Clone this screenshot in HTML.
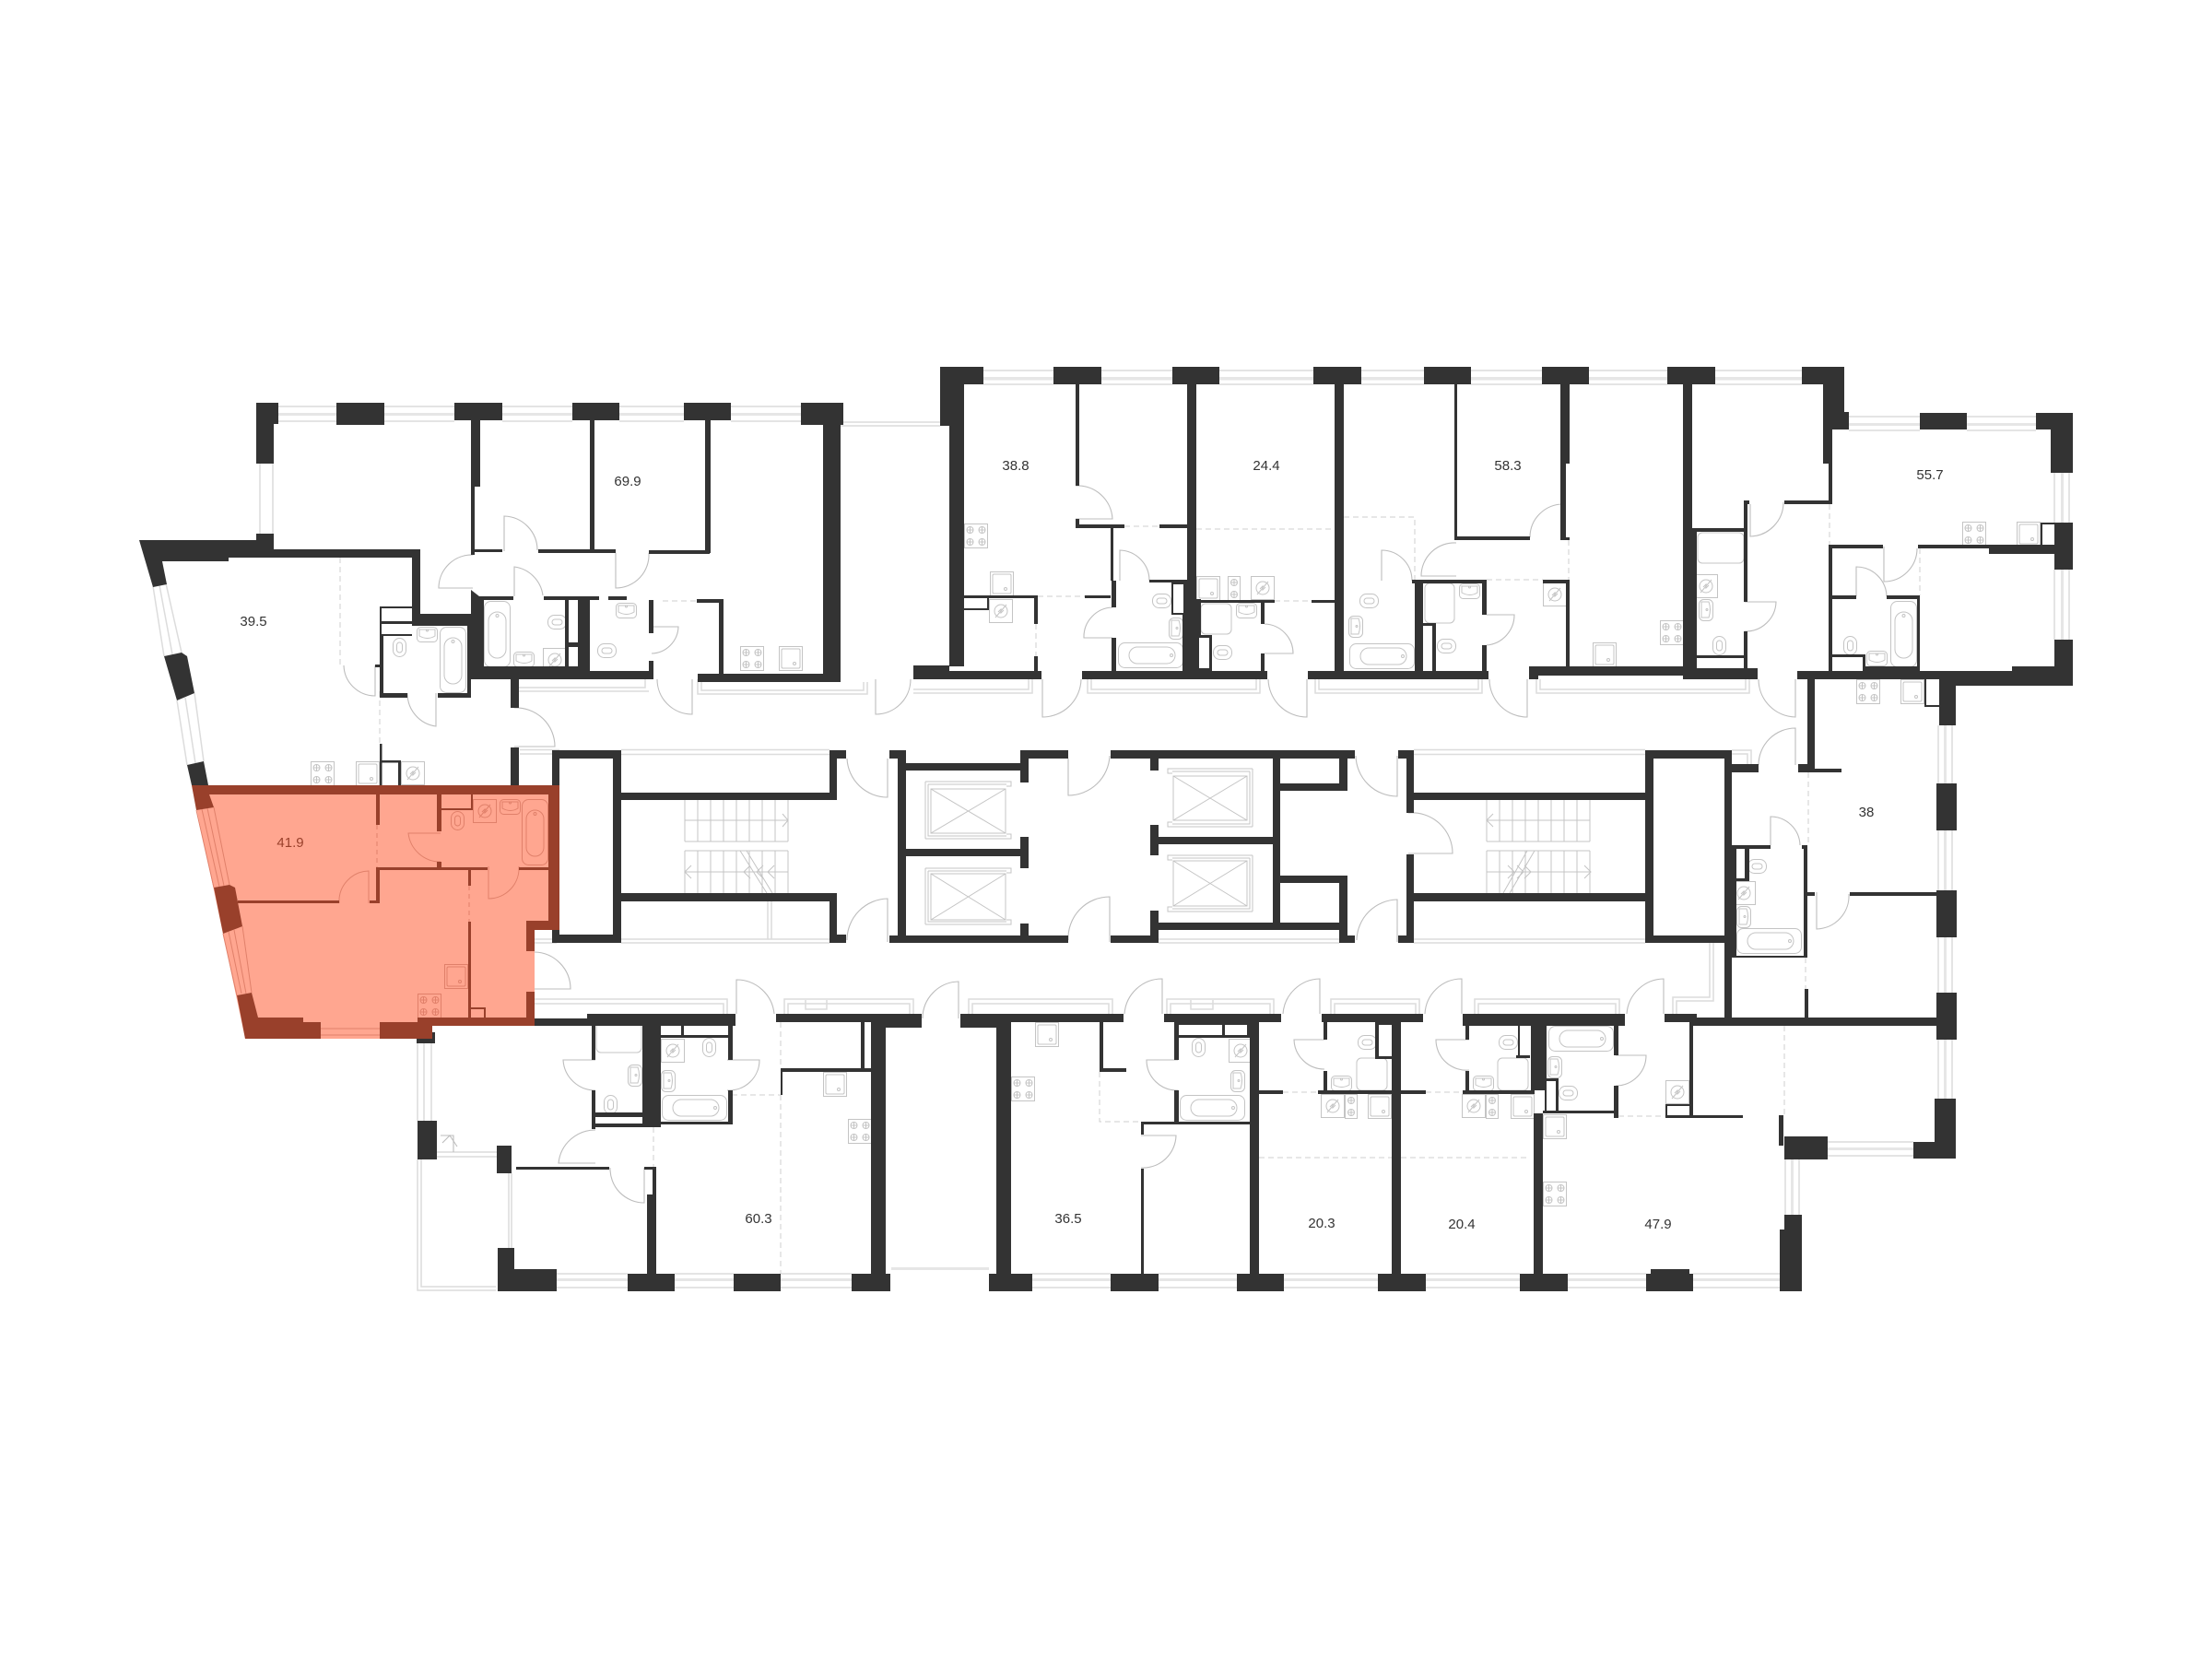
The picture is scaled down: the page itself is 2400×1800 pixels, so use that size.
<!DOCTYPE html>
<html><head><meta charset="utf-8"><title>Floor plan</title>
<style>
html,body{margin:0;padding:0;background:#fff}
svg{display:block}
text{font-family:"Liberation Sans",sans-serif;font-size:15px;text-anchor:middle;fill:#333}
</style></head><body>
<svg width="2400" height="1800" viewBox="0 0 2400 1800" xmlns="http://www.w3.org/2000/svg">
<defs>
<g id="st"><rect x=".5" y=".5" width="25" height="26"/><circle cx="6.500" cy="7" r="3.500"/><circle cx="19.500" cy="7" r="3.500"/><circle cx="6.500" cy="20" r="3.500"/><circle cx="19.500" cy="20" r="3.500"/><path d="M3 7h7M6.500 3.500v7M16 7h7M19.500 3.500v7M3 20h7M6.500 16.500v7M16 20h7M19.500 16.500v7"/></g>
<g id="st2"><rect x=".5" y=".5" width="13" height="26"/><circle cx="7" cy="7" r="3.500"/><circle cx="7" cy="20" r="3.500"/><path d="M3.500 7h7M7 3.500v7M3.500 20h7M7 16.500v7"/></g>
<g id="sq"><rect x=".5" y=".5" width="25" height="26"/><rect x="3" y="3" width="20" height="21" rx="1.500"/><circle cx="17" cy="19" r="1.500"/></g>
<g id="wa"><rect x=".5" y=".5" width="25" height="25"/><circle cx="13" cy="13" r="7"/><path d="M7 20L19 6M10 14l3-3 0 4 3-3"/></g>
<g id="bv"><rect x=".5" y=".5" width="28" height="71" rx="7"/><rect x="5" y="12" width="19" height="50" rx="9.500"/><circle cx="14.500" cy="12" r="1.500" transform="translate(0 4)"/></g>
<g id="bh"><rect x=".5" y=".5" width="70" height="27" rx="7"/><rect x="12" y="5" width="50" height="18" rx="9"/><circle cx="58" cy="14" r="1.500"/></g>
<g id="tv"><rect x=".5" y=".5" width="14" height="20" rx="7"/><rect x="4.500" y="5" width="6" height="11" rx="3"/></g>
<g id="th"><rect x=".5" y=".5" width="20" height="15" rx="7"/><rect x="5" y="5" width="11" height="6" rx="3"/></g>
<g id="sh"><rect x=".5" y=".5" width="22" height="16" rx="4"/><path d="M3 3h17v7q-8 5-17 0z"/><circle cx="11.500" cy="4" r="1"/></g>
<g id="sv"><rect x=".5" y=".5" width="15" height="23" rx="5"/><path d="M3 3h8q3 8 0 17h-8z"/><circle cx="9" cy="11.500" r="1"/></g>
</defs>

<!-- glazing / thin grey lines -->
<g fill="none" stroke="#dcdcdc" stroke-width="1.500">
<path d="M1067 402H1143M1067 417H1143M1195 402H1272M1195 417H1272M1323 402H1425M1323 417H1425M1477 402H1545M1477 417H1545M1596 402H1673M1596 417H1673M1724 402H1809M1724 417H1809M1861 402H1955M1861 417H1955"/>
<path d="M302 441H365M302 457H365M417 441H493M417 457H493M545 441H621M545 457H621M672 441H742M672 457H742M793 441H869M793 457H869"/>
<path d="M2006 452H2083M2006 467H2083M2134 452H2209M2134 467H2209"/>
<path d="M604 1382H681M604 1397H681M732 1382H796M732 1397H796M847 1382H924M847 1397H924M1120 1382H1205M1120 1397H1205M1257 1382H1342M1257 1397H1342M1393 1382H1495M1393 1397H1495M1547 1382H1649M1547 1397H1649M1701 1382H1786M1701 1397H1786M1837 1382H1931M1837 1397H1931"/>
<path d="M1983 1239H2076M1983 1254H2076"/>
<path d="M2229 513V567M2245 513V567M2229 618V694M2245 618V694M2103 787V850M2118 787V850M2103 901V966M2118 901V966M2103 1017V1077M2118 1017V1077M2103 1128V1192M2118 1128V1192"/>
<path d="M1937 1258V1318M1952 1258V1318M282 503V579M296 503V579"/>
<path d="M166 636L178 712M180 633L197 708M173 635L187 710M192 760L203 830M211 752L221 826M201 757L212 828"/>
<path d="M674 813.500H900M674 818.500H900M674 1019H900M674 1023H900M833 978V1019M837 978V1019"/>
<path d="M1257 1019H1453M1257 1023H1453"/>
<path d="M1534 813.500H1785M1534 818.500H1785M1534 1019H1785M1534 1023H1785"/>
<path d="M607 813.500H599M564 818H599M564 813.500H599M604 1019H564M604 1023H564"/>
<path d="M1879 814H1900V829M1879 818H1896V829M1859 1023V1086H1819V1100M1855 1023V1082H1815V1100"/>
<path d="M912 458H1020M912 462H1020"/>
<path d="M991 752H1120V737M991 748H1116V737M1180 737V752H1367V737M1184 737V748H1363V737M1427 737V752H1608V737M1431 737V748H1604V737M1667 737V752H1898V737M1671 737V748H1894V737M757 737V753H941V740M761 737V749H937V740M561 750H704M561 746H700V737"/>
<path d="M580 1084H789V1100M580 1089H785V1100M851 1100V1084H991V1100M855 1100V1089H987V1100M874 1085V1095H897V1085M1051 1100V1084H1207V1100M1055 1100V1089H1203V1100M1266 1100V1084H1382V1100M1270 1100V1089H1378V1100M1292 1085V1095H1316V1085M1444 1100V1084H1540V1100M1448 1100V1089H1536V1100M1600 1100V1084H1757V1100M1604 1100V1089H1753V1100"/>
<path d="M453 1132V1216M460 1132V1216M468 1132V1216M453 1258V1400H538M457 1258V1396H538M474 1250H539M474 1255H539M552 1273V1354M555 1273V1354M967 1376.500H1073"/>
</g>
<g fill="#e6e6e6">
<path d="M1067 409H1143V412.500H1067zM1195 409H1272V412.500H1195zM1323 409H1425V412.500H1323zM1477 409H1545V412.500H1477zM1596 409H1673V412.500H1596zM1724 409H1809V412.500H1724zM1861 409H1955V412.500H1861z"/>
<path d="M302 448H365V451H302zM417 448H493V451H417zM545 448H621V451H545zM672 448H742V451H672zM793 448H869V451H793zM2006 459H2083V462H2006zM2134 459H2209V462H2134z"/>
<path d="M604 1387H681V1390H604zM732 1387H796V1390H732zM847 1387H924V1390H847zM1120 1387H1205V1390H1120zM1257 1387H1342V1390H1257zM1393 1387H1495V1390H1393zM1547 1387H1649V1390H1547zM1701 1387H1786V1390H1701zM1837 1387H1931V1390H1837zM1983 1245H2076V1248H1983z"/>
<path d="M2236 513H2239V567H2236zM2236 618H2239V694H2236zM2109 787H2112V850H2109zM2109 901H2112V966H2109zM2109 1017H2112V1077H2109zM2109 1128H2112V1192H2109zM1943 1258H1946V1318H1943z"/>
<path d="M967 1375H1073V1378H967z"/>
</g>

<!-- stairs and lifts -->
<g fill="none" stroke="#c4c4c4" stroke-width="1">
<path d="M743 868V913M757 868V913M771 868V913M785 868V913M799 868V913M813 868V913M827 868V913M841 868V913M855 868V913M743 923V969M757 923V969M771 923V969M785 923V969M799 923V969M813 923V969M827 923V969M841 923V969M855 923V969M743 890H855M743 946H855M743 913H855M743 923H855M803 923L832 969M810 923L838 969M849 883L855 890L849 897M750 939L743 946L750 953M814 939L807 946L814 953M828 939L821 946L828 953M840 939L833 946L840 953"/>
<path d="M1613 868V913M1627 868V913M1641 868V913M1655 868V913M1669 868V913M1683 868V913M1697 868V913M1711 868V913M1725 868V913M1613 923V969M1627 923V969M1641 923V969M1655 923V969M1669 923V969M1683 923V969M1697 923V969M1711 923V969M1725 923V969M1613 890H1725M1613 946H1725M1613 913H1725M1613 923H1725M1657 923L1631 969M1665 923L1638 969M1620 883L1613 890L1620 897M1719 939L1726 946L1719 953M1636 939L1643 946L1636 953M1646 939L1653 946L1646 953M1654 939L1661 946L1654 953"/>
<path d="M1004 848H1097V853H1092M1004 910H1097V905H1092M1004 848V910M1007 851V907H1092M1007 851H1092M1010 856H1091V904H1010zM1010 856L1091 904M1091 856L1010 904"/>
<path d="M1004 942H1097V947H1092M1004 1003H1097V998H1092M1004 942V1003M1007 945V1000H1092M1007 945H1092M1010 948H1091V998H1010zM1010 948L1091 998M1091 948L1010 998"/>
<path d="M1359 834H1267V839H1272M1359 897H1267V892H1272M1359 834V897M1356 837V894H1272M1356 837H1272M1273 842H1353V890H1273zM1273 842L1353 890M1353 842L1273 890"/>
<path d="M1359 928H1267V933H1272M1359 989H1267V984H1272M1359 928V989M1356 931V986H1272M1356 931H1272M1273 934H1353V983H1273zM1273 934L1353 983M1353 934L1273 983"/>
</g>

<!-- fixtures -->
<g fill="#fff" stroke="#c4c4c4" stroke-width="1">
<use href="#st" x="1046" y="568"/><use href="#st" x="337" y="826"/><use href="#st" x="1801" y="673"/><use href="#st" x="2129" y="566"/><use href="#st" x="2014" y="737"/><use href="#st" x="1097" y="1168"/><use href="#st" x="920" y="1214"/><use href="#st" x="1674" y="1282"/><use href="#st" x="803" y="701"/>
<use href="#st2" x="1332" y="625"/><use href="#st2" x="1459" y="1187"/><use href="#st2" x="1612" y="1187"/>
<use href="#sq" x="1074" y="620"/><use href="#sq" x="1298" y="625"/><use href="#sq" x="386" y="826"/><use href="#sq" x="1728" y="697"/><use href="#sq" x="2188" y="566"/><use href="#sq" x="2062" y="737"/><use href="#sq" x="893" y="1163"/><use href="#sq" x="1123" y="1109"/><use href="#sq" x="1484" y="1187"/><use href="#sq" x="1674" y="1209"/><use href="#sq" x="1639" y="1187"/><use href="#sq" x="845" y="701"/>
<use href="#wa" x="1073" y="650"/><use href="#wa" x="1357" y="625"/><use href="#wa" x="435" y="826"/><use href="#wa" x="1674" y="632"/><use href="#wa" x="1838" y="623"/><use href="#wa" x="589" y="703"/><use href="#wa" x="1879" y="956"/><use href="#wa" x="717" y="1127"/><use href="#wa" x="1333" y="1127"/><use href="#wa" x="1433" y="1187"/><use href="#wa" x="1586" y="1187"/><use href="#wa" x="1807" y="1172"/>
<use href="#bv" x="477" y="680"/><use href="#bv" x="525" y="652"/><use href="#bv" x="2051" y="652"/>
<use href="#bh" x="1213" y="697"/><use href="#bh" x="1464" y="698"/><use href="#bh" x="1884" y="1007"/><use href="#bh" x="718" y="1188"/><use href="#bh" x="1280" y="1188"/><use href="#bh" x="1680" y="1113"/>
<rect x="1303" y="655" width="33" height="33" rx="5"/><rect x="1546" y="633" width="32" height="43" rx="5"/><rect x="1842" y="578" width="50" height="33" rx="5"/><rect x="647" y="1109" width="49" height="33" rx="5"/><rect x="1472" y="1148" width="33" height="35" rx="5"/><rect x="1625" y="1148" width="33" height="35" rx="5"/>
<use href="#tv" x="426" y="692"/><use href="#th" x="594" y="667"/><use href="#th" x="1250" y="644"/><use href="#th" x="1316" y="700"/><use href="#th" x="1475" y="644"/><use href="#th" x="1559" y="693"/><use href="#tv" x="1858" y="690"/><use href="#tv" x="2000" y="690"/><use href="#th" x="1896" y="932"/><use href="#tv" x="762" y="1126"/><use href="#tv" x="655" y="1188"/><use href="#tv" x="1293" y="1126"/><use href="#th" x="1473" y="1123"/><use href="#th" x="1626" y="1123"/><use href="#th" x="1691" y="1178"/><use href="#th" x="648" y="698"/>
<use href="#sh" x="452" y="680"/><use href="#sh" x="557" y="707"/><use href="#sh" x="1341" y="654"/><use href="#sh" x="1583" y="633"/><use href="#sh" x="2025" y="706"/><use href="#sh" x="1444" y="1167"/><use href="#sh" x="1598" y="1167"/><use href="#sh" x="668" y="654"/>
<use href="#sv" x="1268" y="670"/><use href="#sv" x="1463" y="668"/><use href="#sv" x="1843" y="650"/><use href="#sv" x="1884" y="983"/><use href="#sv" x="681" y="1155"/><use href="#sv" x="717" y="1161"/><use href="#sv" x="1335" y="1161"/><use href="#sv" x="1679" y="1146"/>
</g>

<!-- dashed partitions -->
<g fill="none" stroke="#cfcfcf" stroke-width="1" stroke-dasharray="6 4">
<path d="M369 605V722M412 750V808M1220 571H1258M1126 647H1177M1124 677V712M1298 574H1448M1383 652H1423M1458 561H1535V630M1613 629H1674M1702 586V629M1985 547V591M2083 595V646M1962 838V917M1959 1039V1073M1936 1113V1210M709 1223V1266M794 1188H847M847 1109V1159M847 1188V1382M1193 1163V1217H1238M1392 1185H1430M1366 1256H1510M1547 1185H1585M1520 1256H1660M1756 1211H1807M719 652H780"/>
</g>

<!-- doors -->
<g fill="none" stroke="#bdbdbd" stroke-width="1.100">
<path d="M547 598V560A37 37 0 0 1 583 597M513 638H476A36 36 0 0 1 513 602M558 647V615A36 36 0 0 1 589 646M373 722A34 34 0 0 0 407 755V722M442 752A36 36 0 0 0 473 788V752M558 768A42 42 0 0 1 602 810H558M580 1033A40 40 0 0 1 619 1073H580"/>
<path d="M668 600V638A36 36 0 0 0 704 600M707 680H736A30 30 0 0 1 707 709M713 737A38 38 0 0 0 751 775V737M950 737V775A38 38 0 0 0 988 737"/>
<path d="M1167 527A38 38 0 0 1 1207 563H1167M1215 630V597A33 33 0 0 1 1247 630M1207 692H1176A32 32 0 0 1 1207 659M1372 677A32 32 0 0 1 1403 709H1372M1131 737V778A42 42 0 0 0 1173 737M1376 737A42 42 0 0 0 1418 778V737"/>
<path d="M1580 625H1542A36 36 0 0 1 1580 589M1499 630V597A33 33 0 0 1 1532 630M1696 583V547A36 36 0 0 0 1660 583M1613 667H1643A33 33 0 0 1 1613 700M1616 737A41 41 0 0 0 1657 778V737M1899 547V582A37 37 0 0 0 1935 545M1893 653H1927A33 33 0 0 1 1893 685M1908 737A41 41 0 0 0 1948 778V737"/>
<path d="M2044 593V631A36 36 0 0 0 2080 595M2014 647V615A33 33 0 0 1 2047 647M1948 830V790A40 40 0 0 0 1908 830M1921 917V886A32 32 0 0 1 1953 917M1971 968V1008A36 36 0 0 0 2006 970"/>
<path d="M1586 1100V1062A40 40 0 0 0 1546 1100M1805 1100V1062A41 41 0 0 0 1765 1100M1594 1128H1558A33 33 0 0 0 1594 1161M1753 1145H1786A33 33 0 0 1 1753 1178M1261 1100V1062A41 41 0 0 0 1220 1100M1278 1150H1244A33 33 0 0 0 1278 1183M1238 1232H1276A36 36 0 0 1 1238 1267M1432 1100V1062A41 41 0 0 0 1392 1100M1437 1128H1404A33 33 0 0 0 1437 1160"/>
<path d="M799 1100V1063A41 41 0 0 1 840 1100M1040 1105V1065A40 40 0 0 0 1001 1105M646 1150H611A35 35 0 0 0 646 1183M789 1150H824A33 33 0 0 1 789 1183M646 1226A40 40 0 0 0 606 1262H646M662 1267A37 37 0 0 0 699 1305V1267"/>
<path d="M1159 823V863A45 45 0 0 0 1204 820M1204 1022V973A45 45 0 0 0 1159 1020M1471 820A45 45 0 0 0 1516 864V820M1516 1022V976A45 45 0 0 0 1472 1020M1528 882A44 44 0 0 1 1576 926H1528M919 823A44 44 0 0 0 963 865V823M963 1022V975A45 45 0 0 0 919 1020"/>
<path d="M478 1232h14v18M480 1240l8-8 8 12"/>
</g>

<!-- walls -->
<path fill="#333" fill-rule="nonzero" d="
M278 437H302V460H297V503H278z
M365 437H417V461H365z
M493 437H545V456H493z
M621 437H672V456H621z
M742 437H793V456H742z
M869 437H915V461H869z
M511 456H521V528H515V602H511z
M640 456H645V600H640z
M765 456H771V600H765z
M893 456H912V731H893z
M515 596H545V599H515z
M584 596H668V600H584z
M704 597H770V601H704z
M151 586H278V579H297V596H456V679H447V605H248V609H176L181 634L166 637z
M447 666H511V679H447z
M507 679H511V757H507z
M412 752H442V757H412z
M475 752H511V757H475z
M412 690H416V757H412z
M412 658H447V660H412zM412 658H414V690H412zM412 674H447V677H412zM414 688H447V690H414z
M407 721H412V724H407z
M511 640L520 647H525V723H640V728H704V737H511z
M525 647H557V651H525z
M590 647H650V651H590z
M627 647H640V737H627z
M613 647H617V723H613zM613 697H627V702H613z
M660 647H680V651H660z
M704 651H709V687H704zM704 717H709V737H704z
M780 650H785V731H780z
M756 650H785V654H756z
M757 731H912V740H757z
M554 737H563V768H554z
M554 811H563V852H554z
M412 807H414.500V852H412zM414 825H435V827.500H414zM432 825H435V852H432z
M178 712L197 708L203 712L211 752L192 760z
M203 830L221 826L226 852H208z
M991 722H1030V728H1130V737H991z
M1020 398H1067V417H1046V723H1030V462H1020z
M1143 398H1195V417H1143z
M1272 398H1323V417H1272z
M1425 398H1477V417H1425z
M1545 398H1596V417H1545z
M1673 398H1724V417H1673z
M1809 398H1861V417H1809z
M1167 417H1171V527H1167zM1167 563H1171V573H1167z
M1167 569H1220V573H1167z
M1258 569H1288V573H1258z
M1205 573H1208V630H1205zM1206 630H1211V659H1206zM1206 692H1211V728H1206z
M1247 629H1288V632H1247z
M1271 632H1286V634H1271zM1271 632H1273V667H1271zM1284 632H1288V667H1284zM1271 665H1288V667H1271z
M1288 417H1298V728H1283V667H1288z
M1298 650H1303V728H1298z
M1298 651H1383V654H1298z
M1423 651H1448V654H1423z
M1298 689H1315V728H1298z
M1368 654H1372V677H1368zM1368 709H1372V728H1368z
M1448 417H1458V728H1448z
M1174 728H1375V737H1174z
M1419 728H1615V737H1419z
M1122 649H1126V677H1122zM1122 712H1126V728H1122z
M1046 646H1126V649H1046z
M1177 646H1205V649H1177z
M1046 660H1072V662H1046zM1071 649H1073V662H1071z
M1578 417H1581V586H1578z
M1581 582H1660V586H1581z
M1697 583H1703V586H1697z
M1693 417H1703V503H1699V586H1693V503z
M1532 629H1613V633H1532z
M1674 629H1703V633H1674z
M1535 633H1544V728H1535z
M1608 633H1613V667H1608zM1608 700H1613V728H1608z
M1544 676H1558V679H1544zM1554 679H1558V728H1554z
M1699 633H1703V725H1699z
M1659 723H1827V733H1669V737H1659z
M1826 417H1836V737H1826z
M1836 573H1841V737H1836z
M1836 573H1896V577H1836z
M1892 543H1896V653H1892zM1892 685H1896V725H1892zM1892 543H1898V547H1892z
M1936 543H1988V547H1936z
M1839 711H1893V714H1839z
M1836 725H1907V737H1836z
M1950 728H2104V737H1950z
M1955 398H2001V447H2006V466H1988V547H1984V503H1978V417H1955z
M2083 448H2134V466H2083z
M2209 448H2249V513H2225V466H2209z
M2229 567H2249V618H2229z
M2229 694H2249V744H2122V787H2104V728H2183V723H2229z
M1984 591H2043V595H1984z
M2081 591H2158V595H2081z
M2158 591H2229V601H2158z
M2214 567H2232V569H2216V591H2214z
M1984 595H1988V728H1984z
M1988 646H2014V650H1988z
M2047 646H2083V650H2047z
M2080 650H2083V728H2080z
M1988 710H2024V713H1988zM2021 710H2024V728H2021z
M2024 723H2083V728H2024z
M2088 737H2090V765H2104V767H2088z
M599 814H674V1023H599zM607 823V1014H665V823z
M674 860H908V868H674z
M674 969H908V978H674z
M900 814H918V823H908V868H900z
M900 969H908V1014H918V1023H900z
M974 814H983V1023H974z
M965 814H974V823H965zM965 1015H974V1023H965z
M983 828H1107V836H983z
M983 921H1107V929H983z
M983 1015H1159V1023H983z
M1107 814H1159V823H1116V849H1107z
M1107 908H1116V942H1107z
M1107 1002H1116V1015H1107z
M1205 814H1470V823H1205z
M1248 823H1257V836H1248z
M1248 895H1257V928H1248z
M1257 908H1381V916H1257z
M1248 988H1257V1001H1462V1009H1257V1023H1205V1015H1248z
M1381 823H1389V1001H1381z
M1389 850H1462V858H1389z
M1453 823H1462V850H1453z
M1389 950H1462V958H1389z
M1453 958H1462V1015H1470V1023H1453z
M1526 814H1534V882H1526zM1517 814H1526V823H1517z
M1526 927H1534V1023H1526zM1517 1015H1526V1023H1517z
M1534 860H1785V868H1534z
M1534 969H1785V978H1534z
M1785 814H1879V1023H1785zM1794 823V1015H1871V823z
M1879 829H1908V838H1879z
M1951 829H1961V737H1969V834H1998V838H1951z
M1871 1023H1879V1104H1871z
M1879 917H1921V921H1879z
M1955 917H1961V921H1955z
M1879 921H1884V1039H1879z
M1879 1037H1961V1039H1879z
M1957 921H1961V1039H1957z
M1882 953H1898V956H1882z
M1893 921H1898V956H1893z
M1961 968H1969V972H1961z
M2007 968H2101V972H2007z
M2101 850H2123V901H2101z
M2101 966H2123V1017H2101z
M2101 1077H2123V1128H2101z
M1958 1073H1962V1105H1958z
M1836 1104H2101V1113H1836z
M1587 1100H1763V1113H1587z
M1806 1100H1841V1109H1806z
M1833 1109H1837V1210H1833z
M1807 1210H1891V1213H1807z
M1807 1198H1833V1200H1809V1210H1807z
M1930 1210H1935V1243H1930z
M1936 1233H1983V1258H1936z
M2076 1239H2099V1192H2122V1257H2076z
M1936 1318H1955V1401H1931V1334H1936z
M1786 1382H1791V1377H1833V1382H1837V1401H1786z
M1649 1382H1701V1401H1649z
M1664 1208H1674V1382H1664z
M1661 1109H1678V1183H1661z
M1674 1205H1756V1208H1674z
M1674 1170H1691V1173H1674zM1688 1170H1691V1208H1688z
M1676 1183H1678V1206H1676z
M1751 1109H1756V1145H1751zM1751 1178H1756V1213H1751z
M1645 1145H1660V1148H1645zM1647 1109H1649V1148H1647z
M1587 1183H1665V1187H1587z
M1590 1109H1594V1128H1590zM1590 1162H1594V1183H1590z
M1434 1100H1544V1109H1434z
M1496 1109H1510V1112H1496z
M1492 1109H1496V1149H1492zM1492 1146H1510V1149H1492z
M1510 1109H1520V1382H1510z
M1495 1382H1547V1401H1495z
M1520 1183H1547V1187H1520z
M1430 1183H1510V1187H1430z
M1436 1109H1440V1128H1436zM1436 1162H1440V1183H1436z
M1366 1183H1392V1187H1366z
M1356 1109H1366V1382H1356z
M1342 1382H1393V1401H1342z
M1263 1100H1390V1109H1263z
M1274 1109H1279V1150H1274zM1274 1183H1279V1220H1274z
M1279 1109H1356V1112H1279zM1279 1123H1353V1126H1279zM1326 1112H1329V1123H1326zM1353 1109H1356V1126H1353z
M1238 1217H1356V1220H1238z
M1238 1220H1241V1231H1238zM1238 1268H1241V1382H1238z
M1205 1382H1257V1401H1205z
M1193 1109H1197V1163H1193z
M1193 1159H1222V1163H1193z
M1042 1100H1219V1109H1042z
M1042 1109H1081V1115H1042z
M1081 1109H1097V1382H1081z
M1073 1382H1120V1401H1073z
M961 1109H1000V1115H961z
M842 1100H1000V1109H842z
M945 1109H961V1382H945z
M924 1382H966V1401H924z
M934 1109H938V1160H934z
M847 1159H945V1163H847z
M847 1159H849V1188H847z
M580 1105H637V1113H580z
M637 1100H798V1113H637z
M642 1113H646V1150H642zM642 1183H646V1225H642z
M646 1207H697V1212H646z
M642 1219H712V1223H642z
M697 1113H717V1223H697z
M714 1123H794V1126H714z
M739 1112H742V1123H739z
M790 1109H795V1150H790zM790 1183H795V1220H790z
M714 1217H795V1220H714z
M560 1266H661V1269H560z
M699 1266H712V1269H699z
M708 1269H712V1296H708z
M702 1296H712V1382H702z
M540 1377H604V1401H540z
M540 1354H558V1377H540z
M681 1382H732V1401H681z
M796 1382H847V1401H796z
M453 1216H474V1258H453z
M452 1120H472V1132H452z
M539 1243H555V1273H539z
"/>
<rect x="1301" y="692" width="11" height="33" fill="#fff"/>

<!-- highlighted apartment -->
<path fill="#ffa690" d="M208 852H607V1009H580V1113H469V1127H266z"/>
<g fill="#ffa690" stroke="#e0806a" stroke-width="1">
<use href="#st" x="453" y="1078"/><use href="#sq" x="482" y="1046"/><use href="#wa" x="513" y="867"/><use href="#bv" x="566" y="867"/><use href="#tv" x="489" y="880"/><use href="#sh" x="542" y="867"/>
</g>
<g fill="none" stroke="#e0806a" stroke-width="1">
<path d="M478 904H443A35 35 0 0 0 478 935M400 980V945A33 33 0 0 0 368 980M530 940V975A33 33 0 0 0 563 940"/>
<path d="M213 879L232 963M232 876L249 960M219 878L238 962M225 877L243 961M242 1013L257 1080M263 1005L273 1077M248 1011L262 1078M254 1009L267 1078"/>
<path d="M348 1116H412M348 1123H412"/>
<path d="M409 895V941M509 961V1000" stroke-dasharray="5 4"/>
</g>
<path fill="#99402b" d="
M208 852H607V1009H595V862H227L232 876L213 879z
M571 999H607V1009H571z
M571 1009H580V1032H571z
M571 1076H580V1113H453V1104H571z
M257 1080L273 1077L280 1104H329V1109H348V1127H266z
M412 1109H453V1104H469V1127H412z
M232 963L249 960L255 963L263 1005L258 1007L242 1013z
M408 862H412V895H408z
M408 941H529V944H408z
M563 941H599V944H563z
M595 862H599V999H595z
M408 944H412V980H408z
M401 977H412V980H401z
M258 977H368V980H258z
M474 862H479V902H474z
M474 935H479V941H474z
M474 877H513V879H474zM511 862H513V879H511z
M508 944H511V961H508z
M508 1000H511V1104H508z
M511 1093H527V1095H511zM525 1095H527V1104H525z
"/>

<!-- labels -->
<text x="275" y="679">39.5</text>
<text x="681" y="527">69.9</text>
<text x="1102" y="510">38.8</text>
<text x="1374" y="510">24.4</text>
<text x="1636" y="510">58.3</text>
<text x="2094" y="520">55.7</text>
<text x="2025" y="886">38</text>
<text x="315" y="919" style="fill:#99402b">41.9</text>
<text x="823" y="1327">60.3</text>
<text x="1159" y="1327">36.5</text>
<text x="1434" y="1332">20.3</text>
<text x="1586" y="1333">20.4</text>
<text x="1799" y="1333">47.9</text>
</svg>
</body></html>
